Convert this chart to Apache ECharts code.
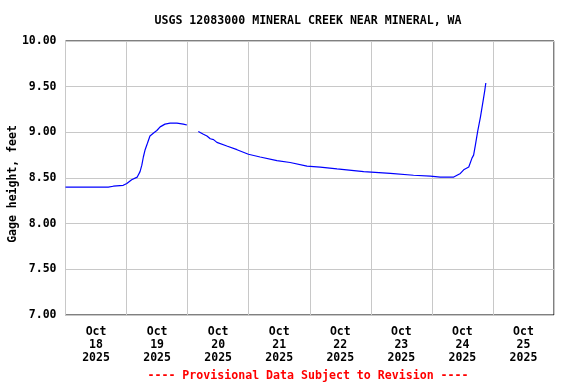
<!DOCTYPE html>
<html><head><meta charset="utf-8">
<script src="https://cdn.jsdelivr.net/npm/echarts@6/dist/echarts.min.js"></script>
<style>html,body{margin:0;padding:0;background:#fff}#c{width:576px;height:384px}</style>
</head><body><div id="c"></div>
<script>
// hours since Oct 18 2025 00:00
const hours = [0,16.8,18.8,22.7,24.1,26.0,28.2,29.3,30.0,30.6,31.3,32.2,33.2,34.5,35.9,37.2,39.1,41.1,43.8,46.3,47.7,50.0,
  52.2,54.2,55.6,56.9,58.2,59.5,63.4,67.4,71.9,76.5,83.1,88.3,94.9,100.1,106.7,117.2,127.7,136.8,143.4,147.3,152.6,153.9,155.2,156.5,158.5,159.1,159.8,160.4,161.1,162.0,163.1,164.1,164.8,165.2];
const gage = [8.40,8.40,8.41,8.42,8.44,8.48,8.51,8.57,8.64,8.73,8.81,8.88,8.96,8.99,9.02,9.06,9.09,9.10,9.10,9.09,9.08,null,
  9.01,8.98,8.96,8.93,8.92,8.89,8.85,8.81,8.76,8.73,8.69,8.67,8.63,8.62,8.60,8.57,8.55,8.53,8.52,8.51,8.51,8.53,8.55,8.59,8.62,8.64,8.72,8.75,8.86,9.01,9.17,9.34,9.46,9.54];
const dayLabels = ['Oct\n18\n2025','Oct\n19\n2025','Oct\n20\n2025','Oct\n21\n2025','Oct\n22\n2025','Oct\n23\n2025','Oct\n24\n2025','Oct\n25\n2025'];
const yTicks = [7.0,7.5,8.0,8.5,9.0,9.5,10.0];

const FONT = '"DejaVu Sans Mono", "Liberation Mono", monospace';
const chart = echarts.init(document.getElementById('c'), null, {renderer:'canvas'});
chart.setOption({
  animation:false,
  backgroundColor:'#fff',
  title:[
    {text:'USGS 12083000 MINERAL CREEK NEAR MINERAL, WA', left:303, textAlign:'center', top:10,
     textStyle:{fontFamily:FONT,fontSize:11.6,fontWeight:'bold',color:'#000'}},
    {text:'---- Provisional Data Subject to Revision ----', left:303, textAlign:'center', top:365,
     textStyle:{fontFamily:FONT,fontSize:11.6,fontWeight:'bold',color:'#ff0000'}}
  ],
  grid:{left:65.5,right:22,top:41,bottom:69,containLabel:false,outerBoundsMode:'none',show:true,borderColor:'#000',borderWidth:1,backgroundColor:'transparent'},
  xAxis:[
    {type:'value',min:0,max:192,interval:24,position:'bottom',
     axisLine:{show:false},axisTick:{show:false},axisLabel:{show:false},
     splitLine:{show:true,lineStyle:{color:'#c8c8c8',width:1}}},
    {type:'value',min:0,max:192,interval:12,position:'bottom',
     axisLine:{show:false},axisTick:{show:false},splitLine:{show:false},
     axisLabel:{show:true,margin:11,fontFamily:FONT,fontSize:11.5,fontWeight:'bold',color:'#000',lineHeight:13,
       formatter:function(v){ if (v%24===12){ return dayLabels[(v-12)/24]||''; } return ''; }}}
  ],
  yAxis:{type:'value',min:yTicks[0],max:yTicks[yTicks.length-1],interval:0.5,
    name:'Gage height, feet',nameLocation:'middle',nameRotate:90,nameGap:46,nameMoveOverlap:false,
    nameTextStyle:{fontFamily:FONT,fontSize:11.5,fontWeight:'bold',color:'#000',padding:[0,12,0,0]},
    axisLine:{show:false},axisTick:{show:false},
    axisLabel:{margin:9,fontFamily:FONT,fontSize:11.5,fontWeight:'bold',color:'#000',formatter:function(v){return v.toFixed(2);}},
    splitLine:{show:true,lineStyle:{color:'#c8c8c8',width:1}}},
  series:[{type:'line',xAxisIndex:0,data:hours.map((h,i)=>[h,gage[i]]),showSymbol:false,symbol:'none',
    connectNulls:false,lineStyle:{color:'#0000ff',width:1.2},itemStyle:{color:'#0000ff'}}]
});
</script></body></html>
